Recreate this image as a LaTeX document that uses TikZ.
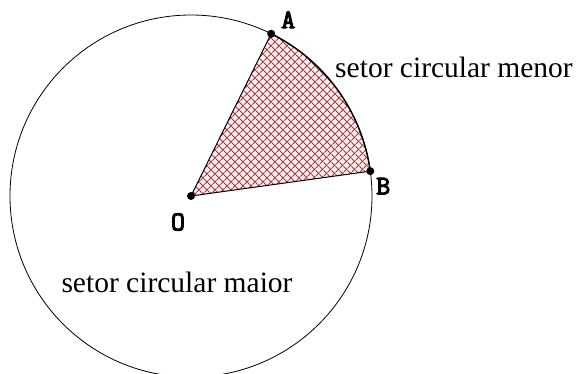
\documentclass[tikz,border=0pt]{standalone}
\usepackage{fontspec}
\setmainfont{Liberation Serif}
\newfontfamily\letrafont{Latin Modern Mono}[FakeBold=4]
\usepackage{tikz}
\usetikzlibrary{calc,patterns.meta}
\definecolor{SetorFundo}{RGB}{255,238,238}
\definecolor{SetorTrama}{RGB}{165,55,65}
\tikzset{
  contorno/.style={draw=black, line width=0.8pt},
  ponto/.style={circle, fill=black, inner sep=0pt, minimum size=8pt},
  letra/.style={font=\letrafont\fontsize{27}{30}\selectfont, inner sep=0pt},
  rotulo/.style={font=\fontsize{29.5}{34}\selectfont, inner sep=0pt},
}

\begin{document}
\begin{tikzpicture}[x=1pt, y=-1pt]
  \useasboundingbox (0,0) rectangle (578,373);

  % ------------------------------------------------------------------ pontos
  \coordinate (O) at (191,196);
  \coordinate (A) at ($(O)+(63.7:181pt)$);
  \coordinate (B) at ($(O)+(7.9:181pt)$);

  % ------------------------------------------------------------------ setor menor
  \fill[SetorFundo] (O) -- (B) arc[start angle=7.9, end angle=63.7, radius=181pt] -- cycle;
  \foreach \ang in {45,-45}{
    \path[pattern={Lines[angle=\ang, distance=5.4pt, line width=1.15pt]}, pattern color=SetorTrama]
      (O) -- (B) arc[start angle=7.9, end angle=63.7, radius=181pt] -- cycle;
  }

  % circunferencia e raios
  \draw[contorno] (O) circle[radius=181pt];
  \draw[contorno, line width=1.4pt] (B) arc[start angle=7.9, end angle=63.7, radius=181pt];
  \draw[contorno, line width=1pt] (A) -- (O) -- (B);

  \node[ponto] (pO) at (O) {};
  \node[ponto] (pA) at (A) {};
  \node[ponto] (pB) at (B) {};

  % rotulos dos pontos
  \node[letra] (lA) at ($(A)+(17,-14)$) {A};
  \node[letra] (lB) at ($(B)+(13,15)$) {B};
  \node[letra] (lO) at ($(O)+(-13,26)$) {O};

  % ------------------------------------------------------------------ textos
  \node[rotulo, anchor=base] (menor) at (454,77) {setor circular menor};
  \node[rotulo, anchor=base] (maior) at (177,292) {setor circular maior};
\end{tikzpicture}
\end{document}
